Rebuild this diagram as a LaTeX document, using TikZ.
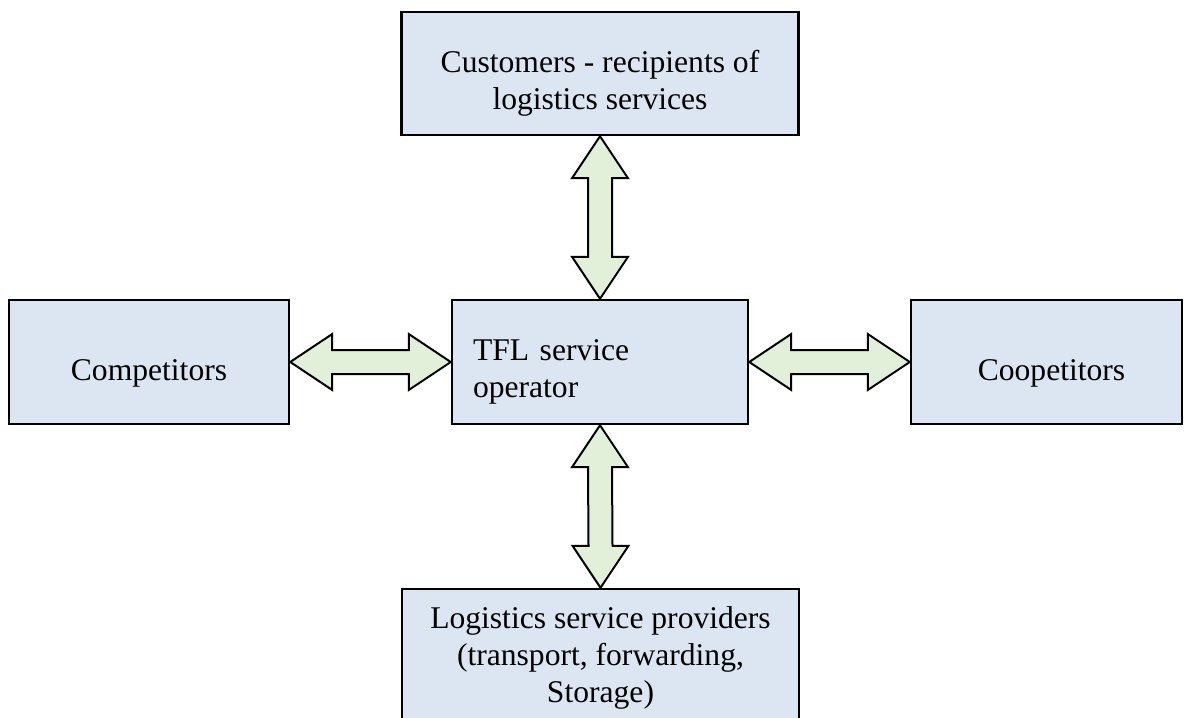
\documentclass[tikz,border=0pt]{standalone}
\usepackage{fontspec}
\setmainfont{Liberation Serif}
\usetikzlibrary{calc}
\definecolor{boxfill}{HTML}{DCE6F2}
\definecolor{arrfill}{HTML}{E2EFD9}
\tikzset{
  box/.style={draw=black, line width=2.4pt, fill=boxfill, inner sep=0pt},
  txt/.style={inner sep=0pt, font=\fontsize{31.6}{37}\selectfont, align=center},
  dbl/.style={draw=black, line width=2pt, fill=arrfill, line join=miter}
}
\begin{document}
\begin{tikzpicture}[x=1pt,y=-1pt]
\useasboundingbox (0,0) rectangle (1185,717);
\clip (0,0) rectangle (1185,717);
\node[box, minimum width=397pt, minimum height=123pt] (t) at (600,73.5) {};
\node[box, minimum width=296pt, minimum height=124pt] (c) at (600,362) {};
\node[box, minimum width=280pt, minimum height=124pt] (l) at (149,362) {};
\node[box, minimum width=271pt, minimum height=124pt] (r) at (1046.5,362) {};
\node[box, minimum width=397pt, minimum height=152pt] (b) at (600.5,665) {};
\node[txt] (tt) at ($(t.center)+(0,10)$) {Customers - recipients of\\logistics services};
\node[txt, text width=254pt, align=left] (ct) at ($(c.center)+(0,10)$) {TFL service\\operator};
\node[txt] (lt) at ($(l.center)+(0,11)$) {Competitors};
\node[txt] (rt) at ($(r.center)+(5,11)$) {Coopetitors};
\node[txt] (bt) at ($(b.center)+(0,-7)$) {Logistics service providers\\(transport, forwarding,\\Storage)};
% horizontal arrows
\draw[dbl] (l.east) -- ++(42,-28) -- ++(0,16) -- ($(c.west)+(-42,-12)$) -- ++(0,-16)
  -- (c.west) -- ++(-42,28) -- ++(0,-16) -- ($(l.east)+(42,12)$) -- ++(0,16) -- cycle;
\draw[dbl] (c.east) -- ++(42,-28) -- ++(0,16) -- ($(r.west)+(-42,-12)$) -- ++(0,-16)
  -- (r.west) -- ++(-42,28) -- ++(0,-16) -- ($(c.east)+(42,12)$) -- ++(0,16) -- cycle;
% vertical arrows
\draw[dbl] (t.south) -- ++(-28,42) -- ++(16,0) -- ($(c.north)+(-12,-42)$) -- ++(-16,0)
  -- (c.north) -- ++(28,-42) -- ++(-16,0) -- ($(t.south)+(12,42)$) -- ++(16,0) -- cycle;
\draw[dbl] (c.south) -- ++(-28,42) -- ++(16,0) -- ($(b.north)+(-12,-42)$) -- ++(-16,0)
  -- (b.north) -- ++(28,-42) -- ++(-16,0) -- ($(c.south)+(12,42)$) -- ++(16,0) -- cycle;
\end{tikzpicture}
\end{document}
